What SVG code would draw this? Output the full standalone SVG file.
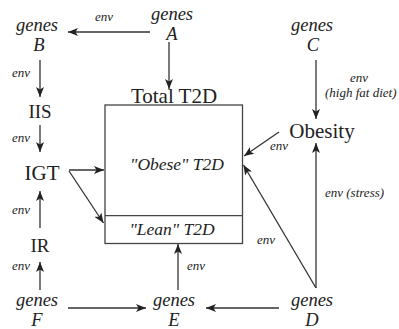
<svg xmlns="http://www.w3.org/2000/svg" width="399" height="329" viewBox="0 0 399 329">
<style>
text{font-family:"Liberation Serif",serif;fill:#222}
.g{font-style:italic;font-size:18.5px;text-anchor:middle}
.e{font-style:italic;font-size:13px}
.n{font-size:19px;text-anchor:middle}
.b{font-size:21px;text-anchor:middle}
.c{font-style:italic;font-size:17.5px;text-anchor:middle}
line{stroke:#333;stroke-width:1.3;marker-end:url(#a)}
.d{fill:none;stroke:#444;stroke-width:1.3}
</style>
<defs><marker id="a" viewBox="0 0 10 8" refX="10" refY="4" markerWidth="10" markerHeight="8" markerUnits="userSpaceOnUse" orient="auto"><path d="M0,0L10,4L0,8L2.5,4z" fill="#222"/></marker></defs>
<rect width="399" height="329" fill="#fff"/>
<g id="box">
<rect class="d" x="105" y="105" width="137.5" height="138.5"/>
<path class="d" d="M105,215.7H242.5"/>
<text class="b" x="174" y="103">Total T2D</text>
<text class="c" x="177" y="170">"Obese" T2D</text>
<text class="c" x="172" y="235">"Lean" T2D</text>
</g>
<g id="genesA"><text class="g" x="172" y="19.5">genes</text><text class="g" x="172" y="40">A</text></g>
<g id="genesB"><text class="g" x="37" y="30.5">genes</text><text class="g" x="39" y="51">B</text></g>
<g id="genesC"><text class="g" x="312" y="30.5">genes</text><text class="g" x="313" y="51">C</text></g>
<g id="genesD"><text class="g" x="312" y="305.5">genes</text><text class="g" x="312" y="326">D</text></g>
<g id="genesE"><text class="g" x="174" y="305.5">genes</text><text class="g" x="174" y="326">E</text></g>
<g id="genesF"><text class="g" x="37" y="305.5">genes</text><text class="g" x="37" y="326">F</text></g>
<g id="IIS"><text class="n" x="40" y="118">IIS</text></g>
<g id="IGT"><text class="b" x="42" y="180">IGT</text></g>
<g id="IR"><text class="n" x="40" y="252">IR</text></g>
<g id="Obesity"><text class="b" x="322" y="138">Obesity</text></g>
<g id="connectors">
<line x1="150" y1="32" x2="68" y2="32"/>
<line x1="169" y1="42" x2="169" y2="89"/>
<line x1="40" y1="60" x2="40" y2="97"/>
<line x1="40" y1="125" x2="40" y2="152"/>
<line x1="69" y1="170" x2="104" y2="170"/>
<line x1="69" y1="171" x2="103.5" y2="223"/>
<line x1="40" y1="228" x2="40" y2="191"/>
<line x1="40" y1="290" x2="40" y2="262"/>
<line x1="68" y1="308" x2="146" y2="308"/>
<line x1="178" y1="290" x2="178" y2="244"/>
<line x1="279" y1="308" x2="206" y2="308"/>
<line x1="316" y1="288" x2="316" y2="143"/>
<line x1="316" y1="288" x2="243.5" y2="165"/>
<line x1="316" y1="60" x2="316" y2="119"/>
<line x1="279" y1="132" x2="244" y2="156"/>
<text class="e" x="95" y="21">env</text>
<text class="e" x="12" y="77">env</text>
<text class="e" x="12" y="142">env</text>
<text class="e" x="12" y="214">env</text>
<text class="e" x="12" y="270">env</text>
<text class="e" x="187" y="270">env</text>
<text class="e" x="257" y="244">env</text>
<text class="e" x="270" y="150">env</text>
<text class="e" x="325" y="197">env (stress)</text>
<text class="e" x="350" y="81.5">env</text>
<text class="e" x="325" y="97">(high fat diet)</text>
</g>
</svg>
